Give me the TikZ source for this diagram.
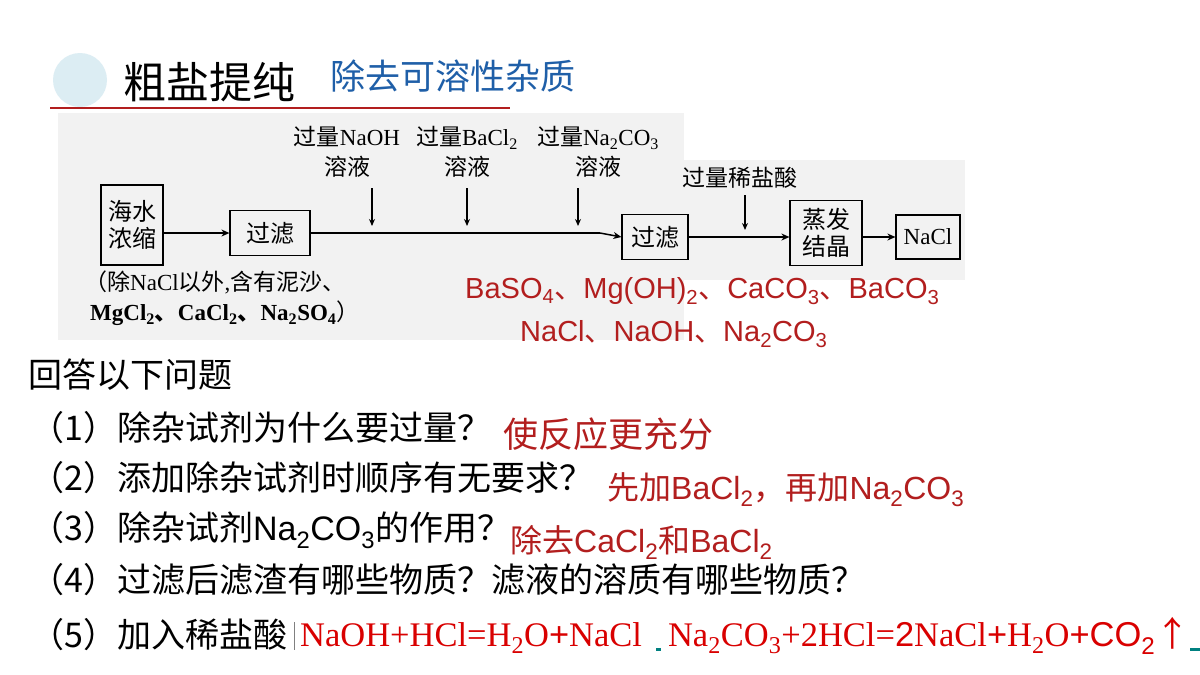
\documentclass[tikz,border=0pt]{standalone}
\usepackage{fontspec}
\usetikzlibrary{arrows.meta}
\setmainfont{Noto Sans CJK SC}
\newfontfamily\cjk{Noto Sans CJK SC}
\newfontfamily\lib{Liberation Sans}
\newfontfamily\ser{Liberation Serif}
\newcommand{\sbx}[1]{\textsubscript{#1}}
\newcommand{\cj}[1]{{\cjk #1}}
\definecolor{dred}{HTML}{B21E1E}
\definecolor{tblue}{HTML}{1F5FA8}
\definecolor{bgg}{HTML}{F2F2F2}
\definecolor{circ}{HTML}{DCEDF3}
\begin{document}
\begin{tikzpicture}[x=1pt,y=-1pt,
  box/.style={draw,line width=1.2pt,inner sep=2pt,align=center,font=\fontsize{24}{27}\selectfont},
  arr/.style={-{Stealth[length=8pt,width=7pt]},line width=1.5pt},
  lab/.style={align=center,font=\fontsize{23}{30}\selectfont,inner sep=0pt},
  q/.style={anchor=west,inner sep=0pt,font=\fontsize{34}{36}\selectfont},
  ans/.style={anchor=west,inner sep=0pt,text=dred,font=\fontsize{32}{34}\selectfont\lib}]
\useasboundingbox (0,0) rectangle (1200,675);
\fill[white] (0,0) rectangle (1200,675);
% header
\fill[circ] (80,80) circle (27);
\node[anchor=west,inner sep=0pt,font=\fontsize{43}{45}\selectfont] (t) at (123,82) {粗盐提纯};
\node[anchor=west,inner sep=0pt,text=tblue,font=\fontsize{35}{37}\selectfont] (t2) at (330,76) {除去可溶性杂质};
\draw[dred,line width=2pt] (50,108) -- (510,108);
% background
\fill[bgg] (58,113) rectangle (684,340);
\fill[bgg] (684,160) rectangle (965,280);
% boxes
\node[box,minimum width=62pt,minimum height=80pt] (a) at (132,225) {海水\\浓缩};
\node[box,minimum width=80pt,minimum height=45pt] (b) at (270,233) {过滤};
\node[box,minimum width=66pt,minimum height=45pt] (c) at (655,237) {过滤};
\node[box,minimum width=72pt,minimum height=65pt] (d) at (826,233) {蒸发\\结晶};
\node[box,minimum width=64pt,minimum height=44pt,font=\fontsize{23}{25}\selectfont\ser] (e) at (928,237) {NaCl};
\draw[arr] (a.east|-b) -- (b.west);
\draw[line width=1.3pt] (b.east) -- (600,233);
\draw[arr] (600,233) -- (c.west);
\draw[arr] (c.east) -- (d.west|-c);
\draw[arr] (d.east|-e) -- (e.west);
% reagents
\node[lab] (r1) at (347,152) {过量{\ser NaOH}\\溶液};
\node[lab] (r2) at (467,152) {过量{\ser BaCl\sbx{2}}\\溶液};
\node[lab] (r3) at (598,152) {过量{\ser Na\sbx{2}CO\sbx{3}}\\溶液};
\node[lab] (r4) at (740,178) {过量稀盐酸};
\foreach \r/\x in {r1/372,r2/467,r3/578}
  \draw[-{Stealth[length=7pt,width=6pt]},line width=1.2pt] (\x,188) -- (\x,226);
\draw[-{Stealth[length=7pt,width=6pt]},line width=1.2pt] (745,195) -- (745,230);
\node[anchor=west,lab,align=left] (n1) at (84,282) {（除{\ser NaCl}以外{\ser ,}含有泥沙、};
\node[anchor=west,lab,align=left] (n2) at (90,313) {{\ser\bfseries MgCl\sbx{2}\cj{、}CaCl\sbx{2}\cj{、}Na\sbx{2}SO\sbx{4}}）};
% red
\node[anchor=west,inner sep=0pt,text=dred,font=\fontsize{29}{31}\selectfont\lib] (p1) at (465,291) {BaSO\sbx{4}\cj{、}Mg(OH)\sbx{2}\cj{、}CaCO\sbx{3}\cj{、}BaCO\sbx{3}};
\node[anchor=west,inner sep=0pt,text=dred,font=\fontsize{29}{31}\selectfont\lib] (p2) at (520,334) {NaCl\cj{、}NaOH\cj{、}Na\sbx{2}CO\sbx{3}};
% questions
\node[q] (q0) at (28,375) {回答以下问题};
\node[q] (q1) at (30,428) {（1）除杂试剂为什么要过量？};
\node[q] (q2) at (30,478) {（2）添加除杂试剂时顺序有无要求？};
\node[q] (q3) at (30,530) {（3）除杂试剂{\lib Na\sbx{2}CO\sbx{3}}的作用？};
\node[q] (q4) at (30,580) {（4）过滤后滤渣有哪些物质？滤液的溶质有哪些物质？};
\node[q] (q5) at (30,635) {（5）加入稀盐酸};
\node[ans,font=\fontsize{35}{37}\selectfont] (a1) at (503,434) {\cj{使反应更充分}};
\node[ans] (a2) at (607,490) {\cj{先加}BaCl\sbx{2}\cj{，再加}Na\sbx{2}CO\sbx{3}};
\node[ans] (a3) at (510,542) {\cj{除去}CaCl\sbx{2}\cj{和}BaCl\sbx{2}};
\draw[gray,line width=0.6pt] (294,622) -- (294,650);
\node[anchor=west,inner sep=0pt,text=red!85!black,font=\fontsize{34.5}{36}\selectfont\ser] (eq) at (300,636)
 {NaOH+HCl=H\sbx{2}O{\lib +}NaCl\hspace{26pt}Na\sbx{2}CO\sbx{3}+2HCl={\lib 2}NaCl{\lib +}H\sbx{2}O{\lib +CO\sbx{2}}\cj{↑}};
\fill[teal] (656,648) rectangle (661,651);
\fill[teal] (1190,648) rectangle (1200,651);
\end{tikzpicture}
\end{document}
